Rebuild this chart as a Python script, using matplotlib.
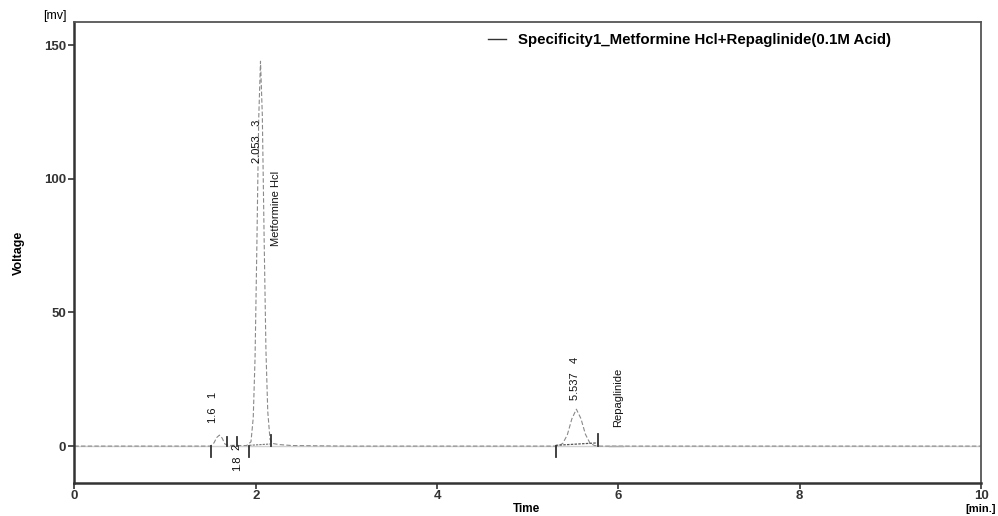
import numpy as np
import matplotlib.pyplot as plt

plt.rcParams['font.family'] = ['Liberation Sans', 'DejaVu Sans']

# chromatogram trace (time in min, signal in mV)
time = [0.0, 1.50, 1.54, 1.57, 1.60, 1.63, 1.66, 1.70, 1.78, 1.82, 1.90,
        1.948, 1.973, 1.993, 2.013, 2.033, 2.053, 2.073, 2.093, 2.113,
        2.133, 2.158, 2.185, 2.25, 2.40, 3.0,
        5.30, 5.337, 5.387, 5.437, 5.487, 5.537, 5.587, 5.637, 5.687,
        5.737, 5.80, 10.0]
signal = [0.0, 0.0, 1.2, 3.2, 4.1, 3.0, 0.8, 0.2, 0.3, 0.2, 0.2,
          1.6, 10.6, 33.0, 75.0, 122.0, 144.0, 124.0, 78.0, 36.0,
          13.0, 2.5, 1.0, 0.6, 0.2, 0.0,
          0.0, 0.1, 1.0, 4.2, 10.2, 13.8, 10.3, 4.4, 1.1,
          0.2, 0.0, 0.0]

# integration marks: (time, start value, end value)
mark_t = [1.51, 1.68, 1.79, 1.93, 2.17, 5.31, 5.77]
mark_lo = [-4.0, 0.0, 0.0, -4.0, 0.0, -4.0, 0.0]
mark_hi = [0.0, 3.5, 3.5, 0.0, 4.0, 0.0, 4.5]

# peak annotations: text, time, bottom value
ann_text = ['1.6   1', '2', '1.8', '2.053   3', 'Metformine Hcl',
            '5.537   4', 'Repaglinide']
ann_t = [1.53, 1.79, 1.79, 2.01, 2.22, 5.52, 6.0]
ann_y = [8.6, -1.5, -9.5, 106.0, 75.0, 17.2, 7.1]

legend_label = 'Specificity1_Metformine Hcl+Repaglinide(0.1M Acid)'
x_ticks = [0, 2, 4, 6, 8, 10]
y_ticks = [0, 50, 100, 150]

fig = plt.figure(figsize=(9.98, 5.16), dpi=100)
ax = fig.add_axes([0.0745, 0.064, 0.9085, 0.893])

ax.axhline(0, color='#d0d0d0', lw=1.0, zorder=1)
ax.plot(time, signal, color='#8a8a8a', lw=0.8, ls=(0, (4, 2)), zorder=2)

for t, lo, hi in zip(mark_t, mark_lo, mark_hi):
    ax.plot([t, t], [lo, hi], color='#333333', lw=1.3, zorder=3)

# dotted integration baselines
ax.plot([1.93, 2.17], [0.3, 0.8], color='#777777', lw=0.8, ls=(0, (2, 1)))
ax.plot([5.31, 5.77], [0.3, 1.2], color='#555555', lw=0.9, ls=(0, (2, 1)))
ax.plot([5.9, 6.05], [0.0, 0.0], color='#aaaaaa', lw=1.0)

narrow = ['Liberation Sans Narrow', 'Liberation Sans']
for s, t, y in zip(ann_text, ann_t, ann_y):
    ax.text(t, y, s, rotation=90, ha='center', va='bottom', fontsize=8,
            family=narrow, color='#111111', clip_on=False)

ax.plot([], [], color='#333333', lw=1.0, label=legend_label)
leg = ax.legend(loc='upper right', bbox_to_anchor=(0.916, 1.006), frameon=False,
                handlelength=1.2, handletextpad=0.8,
                prop={'weight': 'bold', 'size': 10.8})

ax.set_xlim(0, 10)
ax.set_ylim(-13.8, 158.6)
ax.set_xticks(x_ticks)
ax.set_yticks(y_ticks)
ax.tick_params(axis='both', labelsize=9.5, length=4, width=1.2, colors='#333333',
               pad=2)
ax.tick_params(axis='x', pad=1)
for lab in ax.get_xticklabels() + ax.get_yticklabels():
    lab.set_fontweight('bold')

for side in ['left', 'bottom']:
    ax.spines[side].set_linewidth(1.8)
    ax.spines[side].set_color('#333333')
for side in ['top', 'right']:
    ax.spines[side].set_linewidth(1.3)
    ax.spines[side].set_color('#555555')

ax.set_ylabel('Voltage', fontsize=9, fontweight='bold', labelpad=14)
fig.text(0.528, 0.001, 'Time', ha='center', va='bottom', fontsize=8.5,
         fontweight='bold')
ax.text(-0.008, 1.0, '[mv]', transform=ax.transAxes, ha='right', va='bottom',
        fontsize=9)
ax.text(1.0, -0.046, '[min.]', transform=ax.transAxes, ha='center', va='top',
        fontsize=8, fontweight='bold')

fig.savefig('out.png', dpi=100)
